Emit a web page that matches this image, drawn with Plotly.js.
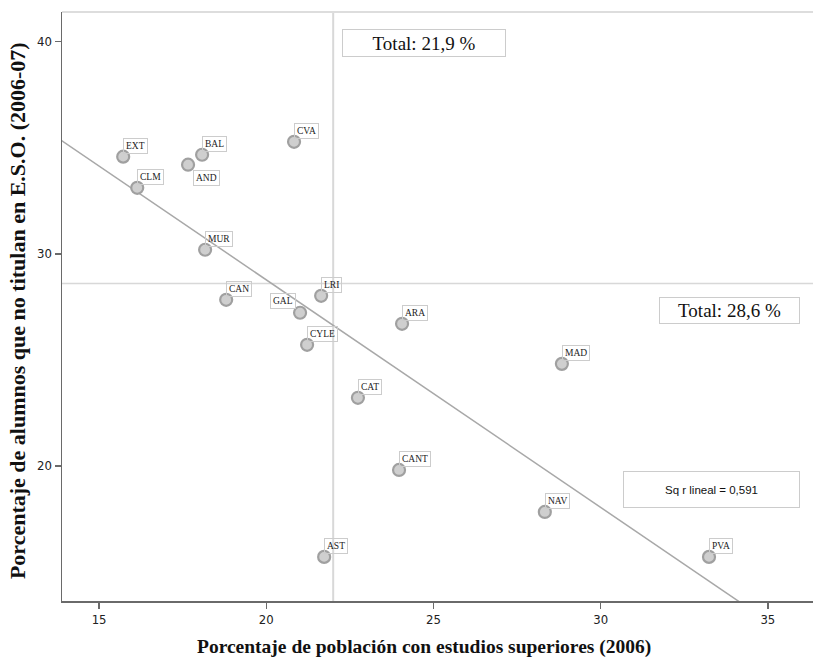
<!DOCTYPE html>
<html>
<head>
<meta charset="utf-8">
<script src="https://cdn.plot.ly/plotly-3.0.1.min.js"></script>
<style>html,body{margin:0;padding:0;background:#fff;}#chart{width:813px;height:657px;}</style>
</head>
<body>
<div id="chart"></div>
<script>
// Data
const regions = ['EXT','BAL','AND','CVA','CLM','MUR','CAN','LRI','GAL','CYLE','ARA','CAT','MAD','CANT','NAV','AST','PVA'];
const pctSuperiores = [15.72,18.08,17.66,20.83,16.14,18.17,18.80,21.64,21.01,21.22,24.06,22.74,28.84,23.97,28.33,21.73,33.24];
const pctNoTitulan = [34.58,34.67,34.20,35.28,33.11,30.19,27.83,28.02,27.22,25.71,26.70,23.21,24.81,19.81,17.83,15.71,15.71];
const totalX = 22.0;            // position of the vertical reference line as drawn
const totalXLabel = 'Total: 21,9 %';
const totalY = 28.6;
const totalYLabel = 'Total: 28,6 %';
const xTicks = [15,20,25,30,35];
const yTicks = [20,30,40];
const xTitle = 'Porcentaje de población con estudios superiores (2006)';
const yTitle = 'Porcentaje de alumnos que no titulan en E.S.O. (2006-07)';

// label placement (style)
const labelPlacement = {AND:'below', GAL:'left'};

// least squares fit
const n = pctSuperiores.length;
const mx = pctSuperiores.reduce((a,b)=>a+b,0)/n;
const my = pctNoTitulan.reduce((a,b)=>a+b,0)/n;
let sxy=0,sxx=0,syy=0;
for(let i=0;i<n;i++){const dx=pctSuperiores[i]-mx, dy=pctNoTitulan[i]-my; sxy+=dx*dy; sxx+=dx*dx; syy+=dy*dy;}
const slope = sxy/sxx, intercept = my - slope*mx;
const r2 = (sxy*sxy)/(sxx*syy);
const xRange = [13.89, 36.35];
const yRange = [13.63, 41.40];
const fitX = [xRange[0]-1, xRange[1]+1];
const fitY = fitX.map(v=>intercept+slope*v);

const traces = [
  {x: fitX, y: fitY, mode:'lines', line:{color:'#a8a8a8', width:1.5}, hoverinfo:'skip', showlegend:false},
  {x: pctSuperiores, y: pctNoTitulan, mode:'markers', text: regions,
   marker:{size:12, color:'#cfcfcf', line:{color:'#a0a0a0', width:2.2}}, showlegend:false}
];

const serif = 'Liberation Serif, Times New Roman, serif';
const labelFont = {family:serif, size:9.5, color:'#222'};
const annotations = regions.map((r,i)=>{
  const p = labelPlacement[r];
  const a = {x: pctSuperiores[i], y: pctNoTitulan[i], xref:'x', yref:'y', text: r, showarrow:false,
    font: labelFont, bordercolor:'#cccccc', borderwidth:1, borderpad:2, bgcolor:'rgba(255,255,255,0)'};
  if(p==='below'){ a.xanchor='left'; a.yanchor='top'; a.xshift=5; a.yshift=-5; }
  else if(p==='left'){ a.xanchor='right'; a.yanchor='bottom'; a.xshift=-4; a.yshift=4; }
  else { a.xanchor='left'; a.yanchor='bottom'; a.xshift=0; a.yshift=3; }
  return a;
});

annotations.push(
  {x: totalX, xref:'x', y:1, yref:'paper', xanchor:'left', yanchor:'top', xshift:9, yshift:-17,
   text: totalXLabel, showarrow:false, width:160, height:24, borderpad:1,
   bordercolor:'#cccccc', borderwidth:1, font:{family:serif, size:19, color:'#111'}},
  {x: 0.983, xref:'paper', y: totalY, yref:'y', xanchor:'right', yanchor:'top', yshift:-14,
   text: totalYLabel, showarrow:false, width:137, height:23, borderpad:1,
   bordercolor:'#cccccc', borderwidth:1, font:{family:serif, size:19, color:'#111'}},
  {x: 0.983, xref:'paper', y: 0.1887, yref:'paper', xanchor:'right', yanchor:'middle',
   text:'Sq r lineal = '+r2.toFixed(3).replace('.', ','), showarrow:false, width:173, height:33, borderpad:1,
   bordercolor:'#cccccc', borderwidth:1, font:{family:'Liberation Sans, Arial, sans-serif', size:11.5, color:'#111'}},
  {x: 0.4825, xref:'paper', y: 0, yref:'paper', yanchor:'top', yshift:-33, showarrow:false,
   text:'<b>'+xTitle+'</b>', font:{family:serif, size:19.5, color:'#111'}},
  {x: 0, xref:'paper', y: 0.493, yref:'paper', xanchor:'right', xshift:-30, textangle:-90, showarrow:false,
   text:'<b>'+yTitle+'</b>', font:{family:serif, size:22, color:'#111'}}
);

const tickFont = {family:'DejaVu Sans Condensed, DejaVu Sans, sans-serif', size:13, color:'#222'};
const layout = {
  width:813, height:657,
  margin:{l:62, r:0, t:12, b:56},
  paper_bgcolor:'#fff', plot_bgcolor:'#fff',
  showlegend:false,
  xaxis:{range:xRange, tickvals:xTicks, ticktext:xTicks.map(String), showgrid:false, zeroline:false,
    showline:true, linecolor:'#6a6a6a', linewidth:1.5, ticks:'outside', ticklen:6, tickwidth:1.5, tickcolor:'#6a6a6a',
    tickfont:tickFont},
  yaxis:{range:yRange, tickvals:yTicks, ticktext:yTicks.map(String), showgrid:false, zeroline:false,
    showline:true, linecolor:'#6a6a6a', linewidth:1.5, ticks:'outside', ticklen:6, tickwidth:1.5, tickcolor:'#6a6a6a',
    tickfont:tickFont},
  shapes:[
    {type:'line', xref:'x', yref:'paper', x0:totalX, x1:totalX, y0:0, y1:1, line:{color:'#d8d8d8', width:2}, layer:'below'},
    {type:'line', xref:'paper', yref:'y', x0:0, x1:1, y0:totalY, y1:totalY, line:{color:'#d8d8d8', width:1.5}, layer:'below'},
    {type:'line', xref:'paper', yref:'paper', x0:0, x1:1, y0:1, y1:1, line:{color:'#dddddd', width:2}}
  ],
  annotations: annotations
};

Plotly.newPlot('chart', traces, layout, {displayModeBar:false, staticPlot:true});
</script>
</body>
</html>
